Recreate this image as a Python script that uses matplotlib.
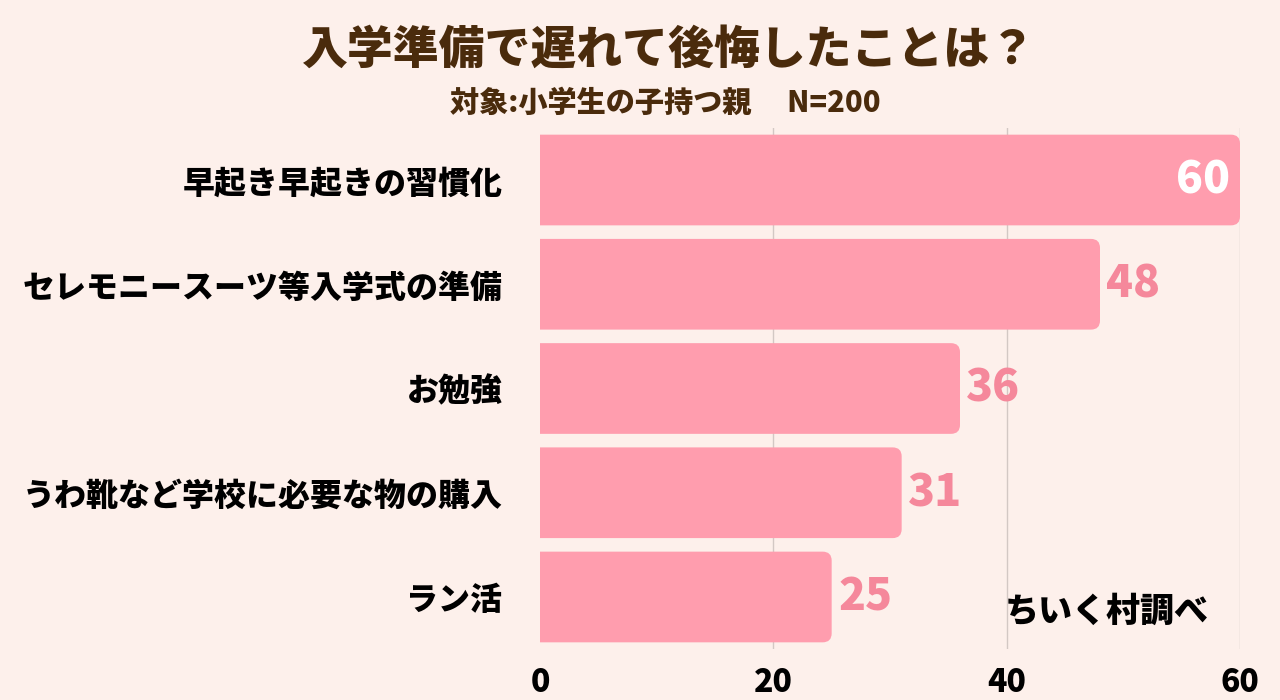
import matplotlib
matplotlib.use("Agg")
import matplotlib.pyplot as plt
from matplotlib.patches import FancyBboxPatch

# data
categories = ["早起き早起きの習慣化", "セレモニースーツ等入学式の準備", "お勉強",
              "うわ靴など学校に必要な物の購入", "ラン活"]
values = [60, 48, 36, 31, 25]
xticks = [0, 20, 40, 60]

title = "入学準備で遅れて後悔したことは？"
subtitle = "対象:小学生の子持つ親　 N=200"
source = "ちいく村調べ"

bg = "#FDF0EB"
bar_color = "#FF9DAE"
label_pink = "#F5889B"
brown = "#4A2B0C"

plt.rcParams["font.family"] = ["Noto Sans CJK JP", "DejaVu Sans"]

fig = plt.figure(figsize=(12.8, 7), dpi=100, facecolor=bg)
ax = fig.add_axes([540 / 1280, 0.0727, 700 / 1280, 0.7446])
ax.set_facecolor(bg)

ax.set_xlim(0, 60)
ax.set_ylim(len(values) - 0.5, -0.5)

# rounded right ends: need the px-per-unit ratio for the rounding
px_x = 700 / 60
px_y = 0.7446 * 700 / len(values)
aspect = px_x / px_y
radius = 9 / px_x
h = 0.87

for i, v in enumerate(values):
    # start left of 0 so the axes clip gives a square left end
    box = FancyBboxPatch((-2, i - h / 2), v + 2, h,
                         boxstyle=f"round,pad=0,rounding_size={radius}",
                         mutation_aspect=aspect, fc=bar_color, ec="none", zorder=2)
    ax.add_patch(box)
    if i == 0:
        ax.text(v - 0.85, i, str(v), ha="right", va="center", color="white",
                fontsize=32, fontweight="black", zorder=3)
    else:
        ax.text(v + 0.55, i, str(v), ha="left", va="center", color=label_pink,
                fontsize=32, fontweight="black", zorder=3)

for x in xticks[1:]:
    ax.axvline(x, color="#D3C8C4", lw=1, zorder=1)

ax.set_xticks(xticks)
ax.set_xticklabels([str(t) for t in xticks], fontsize=23, fontweight="black")
ax.set_yticks(range(len(categories)))
ax.set_yticklabels(categories, fontsize=23, fontweight="black")
ax.tick_params(axis="x", length=0, pad=12)
ax.tick_params(axis="y", length=0, pad=27)
for s in ax.spines.values():
    s.set_visible(False)

fig.text(0.523, 0.928, title, ha="center", va="center", fontsize=33,
         fontweight="black", color=brown)
fig.text(0.5195, 0.852, subtitle, ha="center", va="center", fontsize=21,
         fontweight="black", color=brown)
fig.text(1107 / 1280, 1 - 611 / 700, source, ha="center", va="center",
         fontsize=24.5, fontweight="black", color="black")

fig.savefig("out.png", dpi=100, facecolor=bg)
